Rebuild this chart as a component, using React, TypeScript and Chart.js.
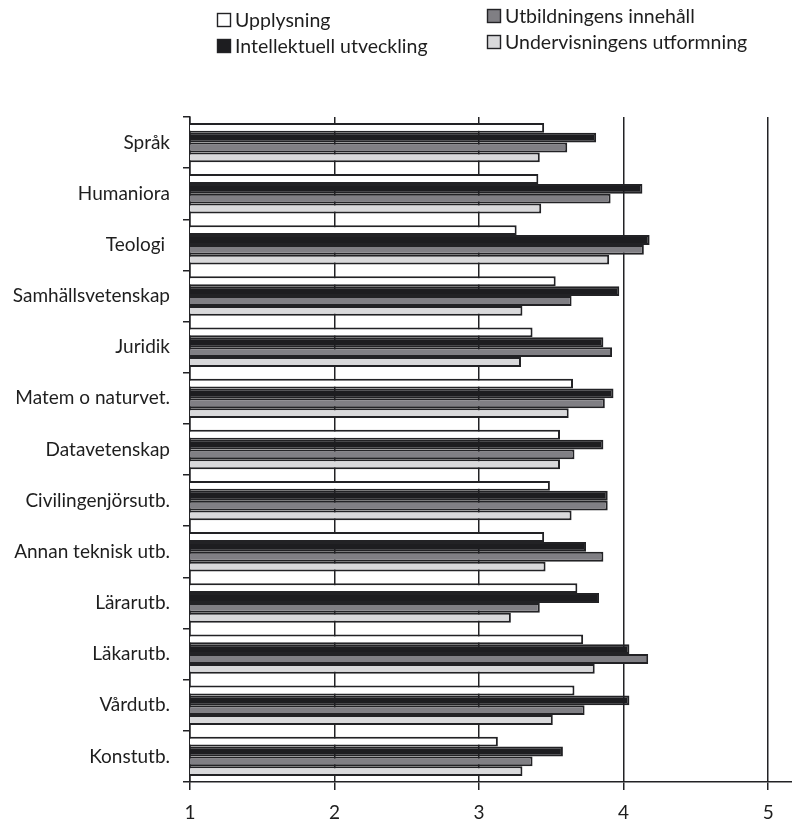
import React, { useEffect, useRef } from "react";
import { Chart, registerables } from "chart.js";

Chart.register(...registerables);

const categories = [
  "Språk",
  "Humaniora",
  "Teologi ",
  "Samhällsvetenskap",
  "Juridik",
  "Matem o naturvet.",
  "Datavetenskap",
  "Civilingenjörsutb.",
  "Annan teknisk utb.",
  "Lärarutb.",
  "Läkarutb.",
  "Vårdutb.",
  "Konstutb.",
];

const seriesNames = [
  "Upplysning",
  "Intellektuell utveckling",
  "Utbildningens innehåll",
  "Undervisningens utformning",
];

const upplysning = [3.45, 3.41, 3.26, 3.53, 3.37, 3.65, 3.56, 3.49, 3.45, 3.68, 3.72, 3.66, 3.13];
const intellektuell = [3.81, 4.13, 4.18, 3.97, 3.86, 3.93, 3.86, 3.89, 3.74, 3.83, 4.04, 4.04, 3.58];
const innehall = [3.61, 3.91, 4.14, 3.64, 3.92, 3.87, 3.66, 3.89, 3.86, 3.42, 4.17, 3.73, 3.37];
const utformning = [3.42, 3.43, 3.9, 3.3, 3.29, 3.62, 3.56, 3.64, 3.46, 3.22, 3.8, 3.51, 3.3];

const xTicks = [1, 2, 3, 4, 5];

const fills = ["#ffffff", "#1d1d20", "#807f84", "#d9d9db"];
const ink = "#222225";
const fontFamily = "Lato, 'Open Sans', sans-serif";
const fontSize = 19;

// Two-column legend drawn above the plot area
const legendPlugin = {
  id: "twoColumnLegend",
  afterDraw(chart: any) {
    const ctx = chart.ctx;
    const slots = [
      { x: 217, y: 20 },
      { x: 217, y: 46 },
      { x: 487, y: 16 },
      { x: 487, y: 42 },
    ];
    ctx.save();
    ctx.font = `19.5px ${fontFamily}`;
    ctx.textBaseline = "middle";
    ctx.textAlign = "left";
    chart.data.datasets.forEach((ds: any, i: number) => {
      const s = slots[i];
      const box = 14;
      ctx.fillStyle = ds.backgroundColor;
      ctx.fillRect(s.x, s.y - box / 2, box, box);
      ctx.lineWidth = 1.4;
      ctx.strokeStyle = ink;
      ctx.strokeRect(s.x + 0.5, s.y - box / 2 + 0.5, box - 1, box - 1);
      ctx.fillStyle = "#1e1e1e";
      ctx.fillText(ds.label, s.x + box + 4, s.y + 1);
    });
    ctx.restore();
  },
};

export default function App() {
  const canvasRef = useRef<HTMLCanvasElement | null>(null);

  useEffect(() => {
    document.body.style.margin = "0";
    const canvas = canvasRef.current;
    if (!canvas) return;
    const values = [upplysning, intellektuell, innehall, utformning];
    const chart = new Chart(canvas, {
      type: "bar",
      data: {
        labels: categories,
        datasets: seriesNames.map((name, i) => ({
          label: name,
          data: values[i],
          backgroundColor: fills[i],
          borderColor: ink,
          borderWidth: 2,
          borderSkipped: false,
          barPercentage: 1,
          categoryPercentage: 0.77,
        })),
      },
      options: {
        indexAxis: "y",
        responsive: false,
        animation: false,
        devicePixelRatio: 1,
        layout: { padding: { top: 117, right: 0, bottom: 0, left: 0 } },
        plugins: {
          legend: { display: false },
          tooltip: { enabled: false },
        },
        scales: {
          x: {
            type: "linear",
            min: 1,
            max: 5.165,
            afterBuildTicks: (scale: any) => {
              scale.ticks = xTicks.map((v) => ({ value: v }));
            },
            afterFit: (scale: any) => {
              scale.height = 39;
            },
            grid: {
              color: ink,
              lineWidth: 1.5,
              tickLength: 8,
              drawTicks: true,
            },
            border: { display: true, color: ink, width: 1.5 },
            ticks: {
              padding: 11,
              color: "#1e1e1e",
              font: { family: fontFamily, size: fontSize },
              callback: (v: any) => String(v),
            },
          },
          y: {
            type: "category",
            afterFit: (scale: any) => {
              scale.width = 190;
            },
            grid: {
              offset: true,
              drawOnChartArea: false,
              drawTicks: true,
              tickLength: 7,
              color: ink,
              lineWidth: 1.5,
            },
            border: { display: true, color: ink, width: 1.5 },
            ticks: {
              padding: 13,
              color: "#1e1e1e",
              font: { family: fontFamily, size: fontSize },
            },
          },
        },
      },
      plugins: [legendPlugin],
    });
    return () => chart.destroy();
  }, []);

  return (
    <div style={{ width: 792, height: 821, background: "#ffffff" }}>
      <canvas ref={canvasRef} width={792} height={821} style={{ display: "block" }} />
    </div>
  );
}
